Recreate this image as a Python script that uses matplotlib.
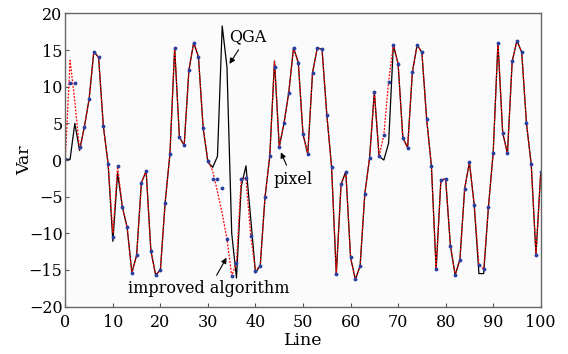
import matplotlib
matplotlib.use("Agg")
import matplotlib.pyplot as plt
import numpy as np

plt.rcParams['font.family'] = ['DejaVu Serif']
plt.rcParams['font.size'] = 11.5

# line index 0..100
line = np.arange(101)

# blue points (pixel)
pixel = [0.1, 10.5, 10.5, 1.8, 4.5, 8.3, 14.8, 14.0, 4.6, -0.5,
         -10.5, -0.8, -6.4, -9.2, -15.4, -13.0, -3.1, -1.5, -12.4, -15.7,
         -15.0, -5.8, 0.8, 15.3, 3.1, 2.0, 12.3, 16.0, 14.1, 4.3,
         -0.1, -2.6, -2.6, -3.8, -10.8, -15.8, -14.0, -2.6, -2.5, -10.4,
         -15.1, -14.4, -5.1, 0.5, 12.7, 1.8, 5.0, 9.2, 15.3, 13.3,
         3.5, 0.8, 11.9, 15.3, 15.1, 6.2, -0.9, -15.6, -3.3, -1.6,
         -13.3, -16.3, -14.5, -4.6, 0.3, 9.3, 0.5, 3.4, 10.7, 15.7,
         13.1, 3.0, 1.7, 12.0, 15.7, 14.7, 5.6, -0.8, -14.9, -2.7,
         -2.6, -11.7, -15.7, -13.6, -3.9, -0.3, -6.1, -14.3, -14.9, -6.4,
         1.0, 16.0, 3.7, 0.9, 13.5, 16.3, 14.7, 5.0, -0.6, -12.9,
         -1.7]

# red dashed line (improved algorithm)
improved = list(pixel)
improved[1] = 13.6
improved[2] = 8.0
improved[3] = 1.4
improved[10] = -10.0
improved[11] = -0.9
improved[31] = -1.5
improved[32] = -4.3
improved[33] = -7.3
improved[44] = 13.5

# black line (QGA)
qga = list(pixel)
qga[0] = 0.1
qga[1] = 0.1
qga[2] = 5.0
qga[3] = 1.3
qga[10] = -11.1
qga[11] = -1.8
qga[30] = -0.3
qga[31] = -1.0
qga[32] = 0.5
qga[33] = 18.3
qga[34] = 12.7
qga[35] = -10.0
qga[36] = -16.1
qga[37] = -3.6
qga[38] = -0.8
qga[39] = -8.0
qga[40] = -15.4
qga[44] = 13.5
qga[67] = 0.0
qga[68] = 2.3
qga[87] = -15.5
qga[88] = -15.5

fig = plt.figure(figsize=(5.68, 3.54), dpi=100)
ax = fig.add_axes([0.115, 0.134, 0.837, 0.828])
ax.set_facecolor('#fbfbfb')

ax.plot(line, qga, color='black', lw=0.9)
ax.plot(line, improved, color='red', lw=0.9, ls=(0, (1.5, 1.2)))
ax.plot(line, pixel, ls='none', marker='.', ms=3.5, color='#2a3f9f')

ax.set_xlim(0, 100)
ax.set_ylim(-20, 20)
ax.set_xticks(np.arange(0, 101, 10))
ax.set_yticks(np.arange(-20, 21, 5))
ax.tick_params(direction='in', length=3, width=0.8, colors='#555555',
               labelcolor='black', pad=2)
ax.tick_params(axis='x', pad=5)
for s in ax.spines.values():
    s.set_color('#666666')
    s.set_linewidth(1.0)

ax.set_xlabel('Line', labelpad=1, fontsize=12.5)
ax.set_ylabel('Var', labelpad=-3, fontsize=12.5)

arrow = dict(arrowstyle='-|>', color='black', lw=0.8, mutation_scale=8)
ax.annotate('QGA', xy=(34.2, 12.8), xytext=(38.3, 16.9),
            ha='center', va='center', arrowprops=arrow)
ax.annotate('pixel', xy=(45.1, 1.4), xytext=(47.8, -2.6),
            ha='center', va='center', arrowprops=arrow)
ax.annotate('improved algorithm', xy=(34.2, -13.0), xytext=(30.2, -17.6),
            ha='center', va='center', arrowprops=arrow)

fig.savefig('out.png', dpi=100)
